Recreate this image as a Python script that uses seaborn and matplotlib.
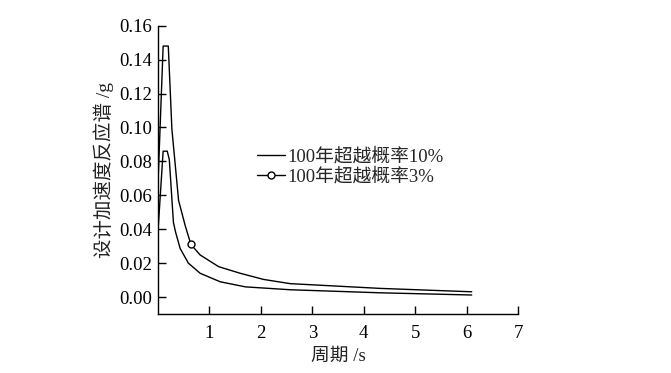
import numpy as np
import pandas as pd
import matplotlib
matplotlib.use('Agg')
import matplotlib.pyplot as plt
import seaborn as sns

# Values
period_10 = [0.0, 0.1, 0.18, 0.22, 0.3, 0.34, 0.43, 0.59, 0.82, 1.21, 1.7, 2.57, 4.32, 6.1]
accel_10 = [0.039, 0.086, 0.086, 0.081, 0.044, 0.0385, 0.0287, 0.020, 0.014, 0.009, 0.006, 0.0043, 0.0025, 0.0012]

period_3 = [0.0, 0.1, 0.2, 0.27, 0.4, 0.53, 0.64, 0.82, 1.18, 1.6, 2.05, 2.57, 4.32, 6.1]
accel_3 = [0.067, 0.148, 0.148, 0.099, 0.057, 0.042, 0.031, 0.0248, 0.0179, 0.014, 0.0104, 0.0079, 0.0051, 0.0031]

label_10 = '100年超越概率10%'
label_3 = '100年超越概率3%'

df10 = pd.DataFrame({'T': period_10, 'Sa': accel_10})
df3 = pd.DataFrame({'T': period_3, 'Sa': accel_3})

sns.set_style('ticks')
plt.rcParams['font.family'] = ['Liberation Serif', 'Noto Sans CJK SC', 'DejaVu Sans']
plt.rcParams['axes.unicode_minus'] = False

fig = plt.figure(figsize=(6.71, 3.73), dpi=100)
ax = fig.add_axes([158 / 671, 1 - 314 / 373, (518 - 158) / 671, (314 - 25.7) / 373])

sns.lineplot(data=df10, x='T', y='Sa', ax=ax, color='black', lw=1.0, label=label_10)
sns.lineplot(data=df3, x='T', y='Sa', ax=ax, color='black', lw=1.0, label=label_3,
             marker='o', markersize=5, markerfacecolor='white', markeredgecolor='black',
             markeredgewidth=1.0, markevery=[6])

ax.set_xlim(0, 7)
ax.set_ylim(-0.01, 0.16)
ax.set_xticks(range(1, 8))
ax.set_yticks(np.arange(0, 0.161, 0.02))
ax.set_yticklabels([f'{v:.2f}' for v in np.arange(0, 0.161, 0.02)])
ax.tick_params(direction='in', length=6, width=1, labelsize=13.5, colors='black')
ax.tick_params(axis='x', pad=8)
ax.tick_params(axis='y', pad=4)
sns.despine(ax=ax)
for s in ['left', 'bottom']:
    ax.spines[s].set_linewidth(1.0)
    ax.spines[s].set_color('black')

ax.set_xlabel('周期 /s', fontsize=13.5, labelpad=4, color='#222222')
ax.set_ylabel('设计加速度反应谱 /g', fontsize=14, labelpad=4, color='#222222')

ax.legend(loc='upper left', bbox_to_anchor=(257 / 671, 1 - 148 / 373),
          bbox_transform=fig.transFigure, frameon=False, fontsize=13.5,
          handlelength=1.5, handletextpad=0.1, labelspacing=0.1,
          borderpad=0, borderaxespad=0)

fig.savefig('out.png', dpi=100)
